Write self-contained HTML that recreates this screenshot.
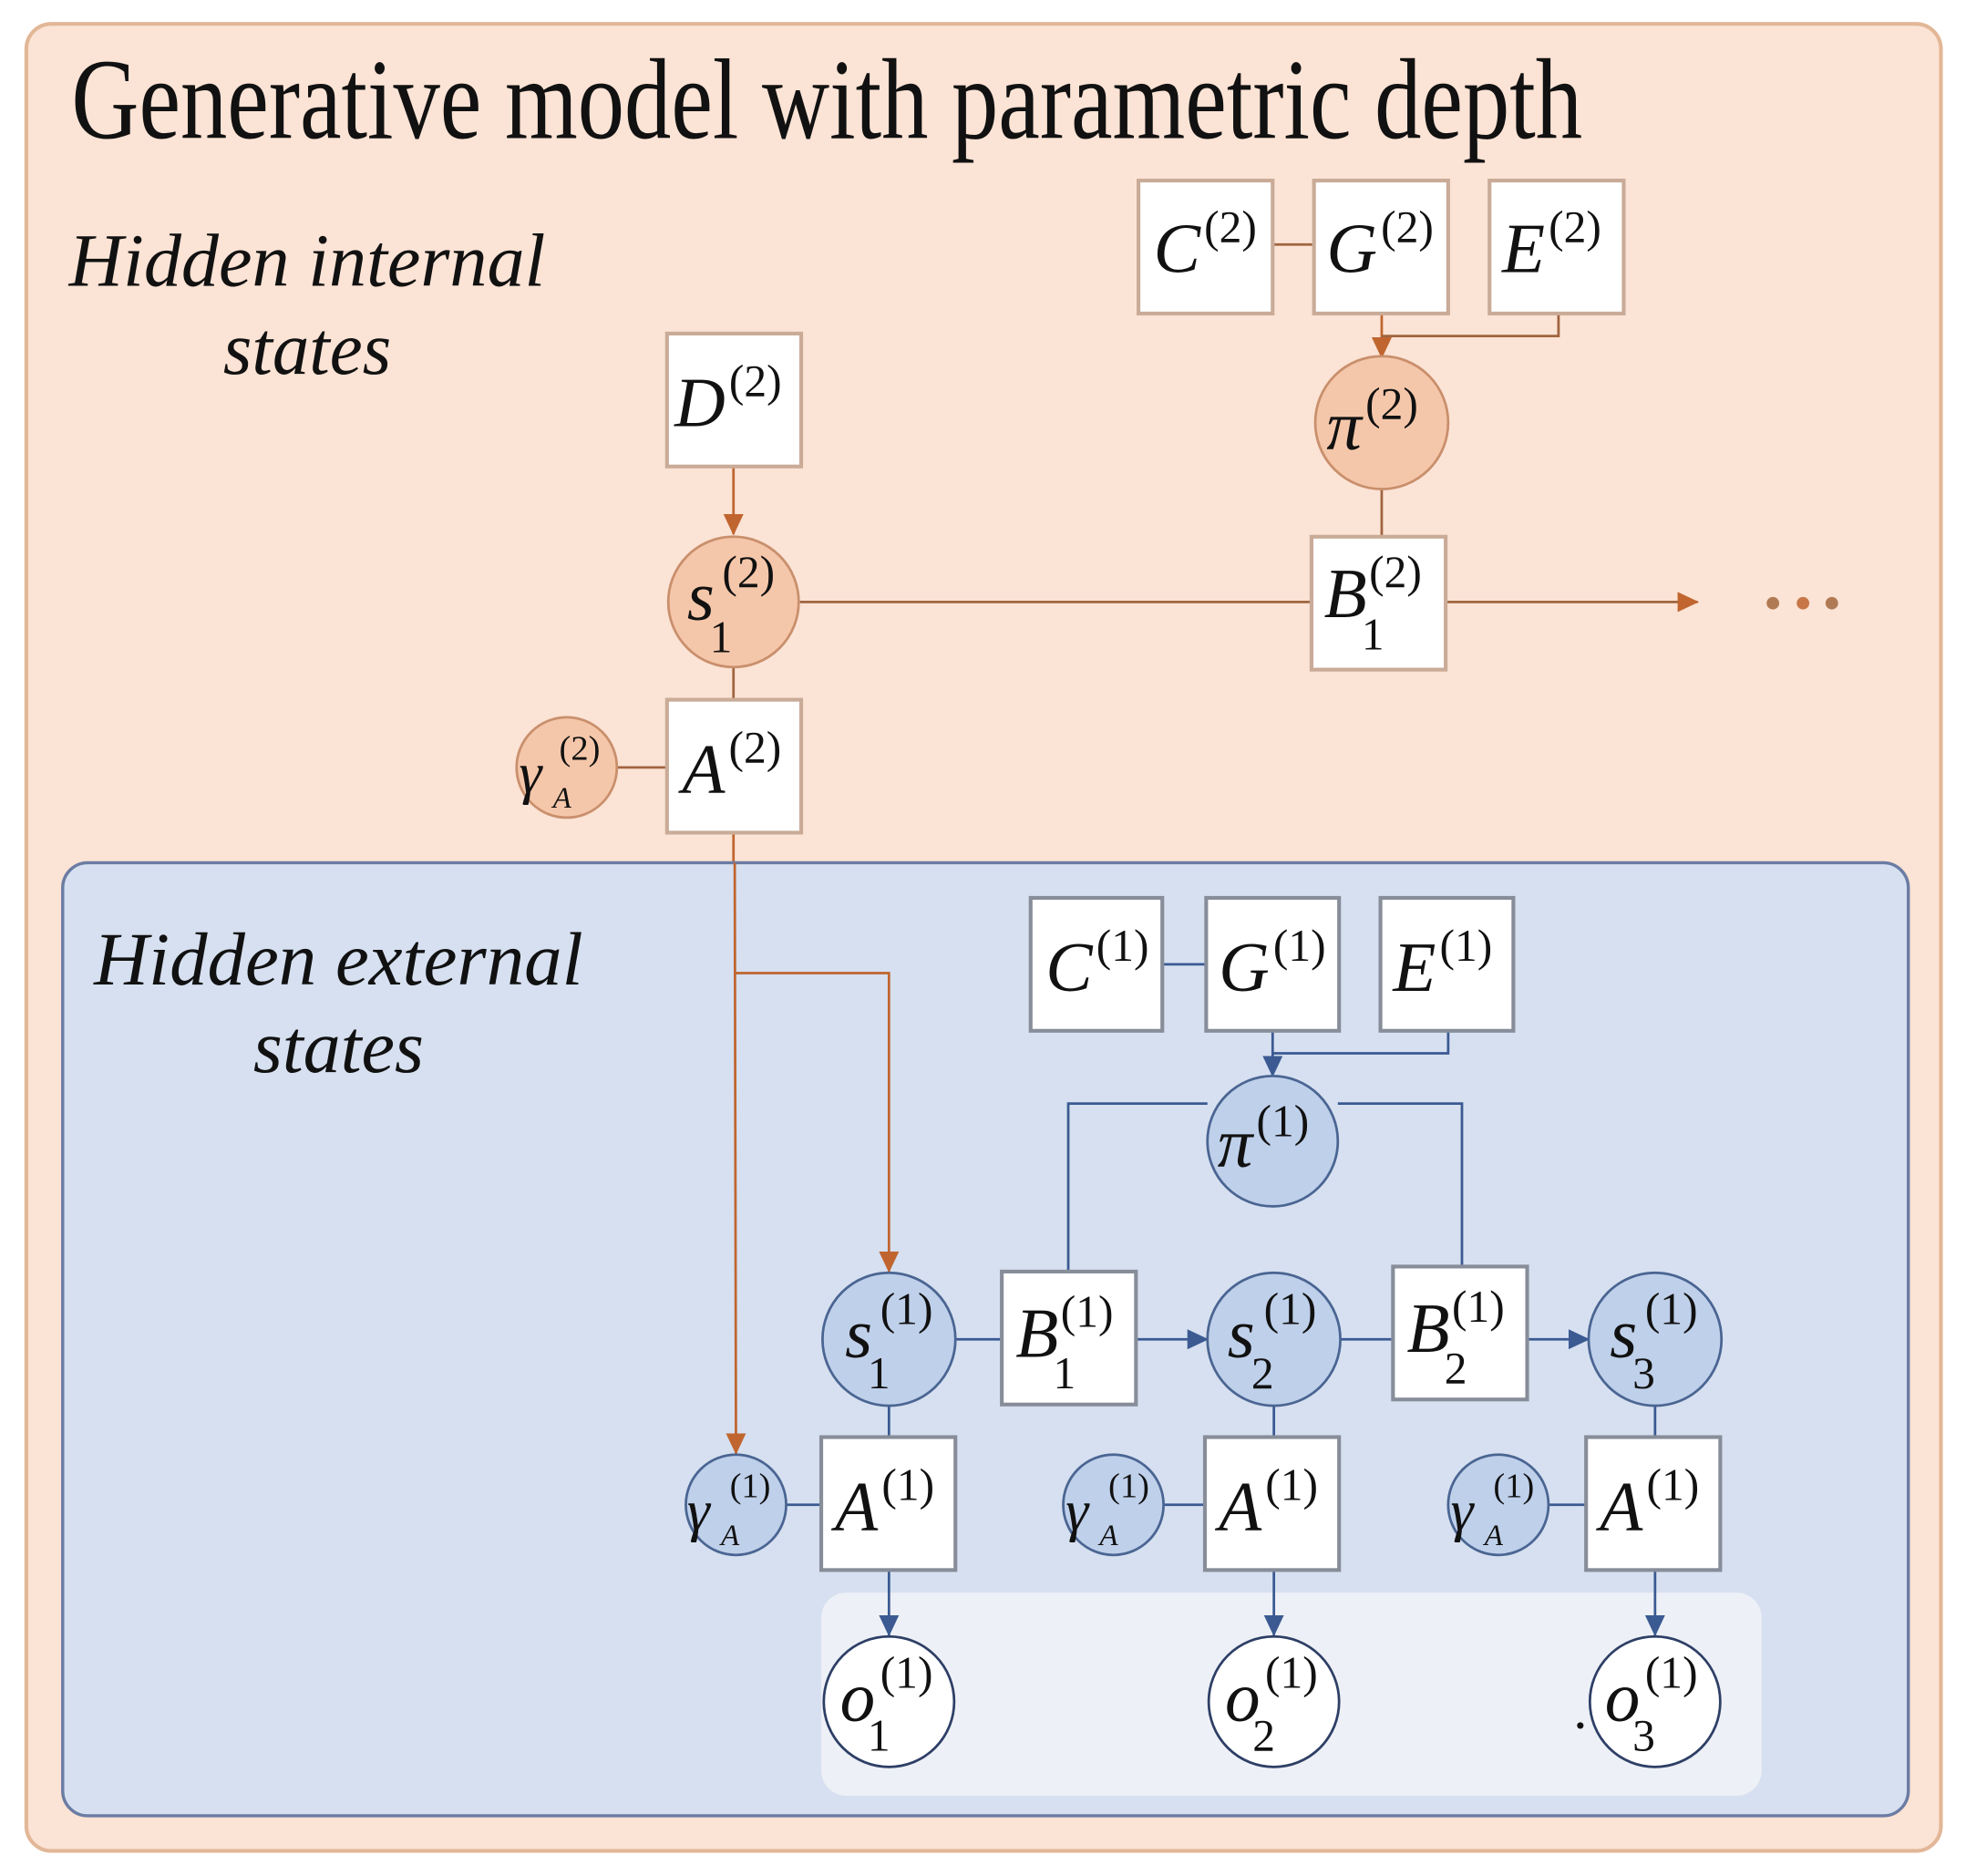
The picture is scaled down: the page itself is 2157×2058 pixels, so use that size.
<!DOCTYPE html>
<html><head><meta charset="utf-8"><style>
html,body{margin:0;padding:0;background:#fff;}
svg{display:block;}
text{font-family:"Liberation Serif",serif;fill:#111;}
.m{font-style:italic;font-size:56px;}
.sp{font-size:36px;font-style:normal;}
.sb{font-size:36px;font-style:normal;}
</style></head><body>
<svg width="2157" height="2058" viewBox="0 0 1568 1496" preserveAspectRatio="none" xmlns="http://www.w3.org/2000/svg">
<defs>
<marker id="aO" markerWidth="18" markerHeight="18" refX="16" refY="9" orient="auto" markerUnits="userSpaceOnUse"><path d="M0,1 L17,9 L0,17 z" fill="#c0652f"/></marker>
<marker id="aB" markerWidth="18" markerHeight="18" refX="16" refY="9" orient="auto" markerUnits="userSpaceOnUse"><path d="M0,1 L17,9 L0,17 z" fill="#3b5a92"/></marker>
</defs>
<rect x="21" y="19" width="1527" height="1457" rx="20" fill="#fbe3d5" stroke="#e2b797" stroke-width="3"/>
<text x="57" y="110" font-size="92" textLength="1205" lengthAdjust="spacingAndGlyphs">Generative model with parametric depth</text>
<text x="55" y="228" font-size="60" font-style="italic" textLength="380" lengthAdjust="spacingAndGlyphs">Hidden internal</text>
<text x="178" y="298" font-size="60" font-style="italic" textLength="134" lengthAdjust="spacingAndGlyphs">states</text>

<g stroke="#a0643f" stroke-width="2" fill="none">
<line x1="1015" y1="195" x2="1048" y2="195"/>
<line x1="1102" y1="250" x2="1102" y2="285" stroke="#c0652f" marker-end="url(#aO)"/>
<polyline points="1243,250 1243,268 1102,268"/>
<line x1="1102" y1="390" x2="1102" y2="428"/>
<line x1="585" y1="372" x2="585" y2="426" stroke="#c0652f" marker-end="url(#aO)"/>
<line x1="638" y1="480" x2="1046" y2="480"/>
<line x1="1153" y1="480" x2="1354" y2="480" marker-end="url(#aO)"/>
<line x1="585" y1="532" x2="585" y2="558"/>
<line x1="492" y1="612" x2="532" y2="612"/>
<line x1="585" y1="664" x2="585" y2="690" stroke="#c0652f"/>
</g>
<circle cx="1414" cy="481" r="5" fill="#b07a55"/><circle cx="1438" cy="481" r="5" fill="#c87648"/><circle cx="1461" cy="481" r="5" fill="#b07a55"/>

<rect x="50" y="688" width="1472" height="760" rx="20" fill="#d6e0f0" stroke="#6b7ca3" stroke-width="2.5"/>
<rect x="655" y="1270" width="750" height="162" rx="20" fill="#edf0f6"/>
<line x1="586" y1="688" x2="587" y2="1159" stroke="#c0652f" stroke-width="2" marker-end="url(#aO)"/>
<polyline points="587,776 709,776 709,1014" stroke="#c0652f" stroke-width="2" fill="none" marker-end="url(#aO)"/>
<text x="75" y="785" font-size="60" font-style="italic" textLength="390" lengthAdjust="spacingAndGlyphs">Hidden external</text>
<text x="202" y="855" font-size="60" font-style="italic" textLength="136" lengthAdjust="spacingAndGlyphs">states</text>

<g stroke="#3b5a92" stroke-width="2" fill="none">
<line x1="927" y1="769" x2="962" y2="769"/>
<line x1="1015" y1="822" x2="1015" y2="858" marker-end="url(#aB)"/>
<polyline points="1155,822 1155,840 1015,840"/>
<polyline points="963,880 852,880 852,1014"/>
<polyline points="1067,880 1166,880 1166,1010"/>
<line x1="762" y1="1068" x2="799" y2="1068"/>
<line x1="906" y1="1068" x2="963" y2="1068" marker-end="url(#aB)"/>
<line x1="1069" y1="1068" x2="1111" y2="1068"/>
<line x1="1218" y1="1068" x2="1267" y2="1068" marker-end="url(#aB)"/>
<line x1="709" y1="1120" x2="709" y2="1146"/><line x1="1016" y1="1120" x2="1016" y2="1146"/><line x1="1320" y1="1120" x2="1320" y2="1146"/>
<line x1="627" y1="1200" x2="655" y2="1200"/><line x1="928" y1="1200" x2="961" y2="1200"/><line x1="1235" y1="1200" x2="1265" y2="1200"/>
<line x1="709" y1="1252" x2="709" y2="1304" marker-end="url(#aB)"/>
<line x1="1016" y1="1252" x2="1016" y2="1304" marker-end="url(#aB)"/>
<line x1="1320" y1="1252" x2="1320" y2="1304" marker-end="url(#aB)"/>
</g>

<g fill="#fff" stroke="#c9ab98" stroke-width="3">
<rect x="908" y="144" width="107" height="106"/>
<rect x="1048" y="144" width="107" height="106"/>
<rect x="1188" y="144" width="107" height="106"/>
<rect x="532" y="266" width="107" height="106"/>
<rect x="1046" y="428" width="107" height="106"/>
<rect x="532" y="558" width="107" height="106"/>
</g>
<g fill="#f5c7aa" stroke="#c98f6c" stroke-width="2">
<circle cx="1102" cy="337" r="53"/>
<circle cx="585" cy="480" r="52"/>
<circle cx="452" cy="612" r="40"/>
</g>
<g fill="#fff" stroke="#878d99" stroke-width="3">
<rect x="822" y="716" width="105" height="106"/>
<rect x="962" y="716" width="106" height="106"/>
<rect x="1101" y="716" width="106" height="106"/>
<rect x="799" y="1014" width="107" height="106"/>
<rect x="1111" y="1010" width="107" height="106"/>
<rect x="655" y="1146" width="107" height="106"/>
<rect x="961" y="1146" width="107" height="106"/>
<rect x="1265" y="1146" width="107" height="106"/>
</g>
<g fill="#bfd0ea" stroke="#4a6592" stroke-width="2">
<circle cx="1015" cy="910" r="52"/>
<circle cx="709" cy="1068" r="53"/><circle cx="1016" cy="1068" r="53"/><circle cx="1320" cy="1068" r="53"/>
<circle cx="587" cy="1200" r="40"/><circle cx="888" cy="1200" r="40"/><circle cx="1195" cy="1200" r="40"/>
</g>
<g fill="#fff" stroke="#2e3f66" stroke-width="2">
<circle cx="709" cy="1357" r="52"/><circle cx="1016" cy="1357" r="52"/><circle cx="1320" cy="1357" r="52"/>
</g>

<g class="m">
<text x="920" y="217">C<tspan class="sp" dx="3" dy="-24">(2)</tspan></text>
<text x="1058" y="217">G<tspan class="sp" dx="3" dy="-24">(2)</tspan></text>
<text x="1198" y="217">E<tspan class="sp" dx="3" dy="-24">(2)</tspan></text>
<text x="538" y="340">D<tspan class="sp" dx="3" dy="-24">(2)</tspan></text>
<text x="544" y="632">A<tspan class="sp" dx="3" dy="-24">(2)</tspan></text>
<text x="1058" y="358">π<tspan class="sp" dx="3" dy="-24">(2)</tspan></text>
<text x="834" y="790">C<tspan class="sp" dx="3" dy="-24">(1)</tspan></text>
<text x="972" y="790">G<tspan class="sp" dx="3" dy="-24">(1)</tspan></text>
<text x="1111" y="790">E<tspan class="sp" dx="3" dy="-24">(1)</tspan></text>
<text x="971" y="930">π<tspan class="sp" dx="3" dy="-24">(1)</tspan></text>
<text x="666" y="1220">A<tspan class="sp" dx="3" dy="-24">(1)</tspan></text>
<text x="972" y="1220">A<tspan class="sp" dx="3" dy="-24">(1)</tspan></text>
<text x="1276" y="1220">A<tspan class="sp" dx="3" dy="-24">(1)</tspan></text>
</g>
<g class="m">
<text x="548" y="494">s</text><text class="sp" x="576" y="468">(2)</text><text class="sb" x="566" y="520">1</text>
<text x="1056" y="492">B</text><text class="sp" x="1092" y="468">(2)</text><text class="sb" x="1086" y="518">1</text>
<text x="674" y="1082">s</text><text class="sp" x="702" y="1056">(1)</text><text class="sb" x="692" y="1107">1</text>
<text x="810" y="1082">B</text><text class="sp" x="846" y="1058">(1)</text><text class="sb" x="840" y="1107">1</text>
<text x="979" y="1082">s</text><text class="sp" x="1008" y="1056">(1)</text><text class="sb" x="998" y="1107">2</text>
<text x="1122" y="1078">B</text><text class="sp" x="1158" y="1054">(1)</text><text class="sb" x="1152" y="1103">2</text>
<text x="1284" y="1082">s</text><text class="sp" x="1312" y="1056">(1)</text><text class="sb" x="1302" y="1107">3</text>
<text x="670" y="1372">o</text><text class="sp" x="702" y="1346">(1)</text><text class="sb" x="692" y="1396">1</text>
<text x="977" y="1372">o</text><text class="sp" x="1009" y="1346">(1)</text><text class="sb" x="999" y="1396">2</text>
<text x="1256" y="1378" style="font-size:44px">.</text>
<text x="1280" y="1372">o</text><text class="sp" x="1312" y="1346">(1)</text><text class="sb" x="1302" y="1396">3</text>
</g>
<g font-style="italic">
<text x="414" y="632" font-size="46">γ</text><text x="446" y="606" font-size="28" font-style="normal">(2)</text><text x="441" y="644" font-size="24">A</text>
<text x="548" y="1220" font-size="46">γ</text><text x="582" y="1194" font-size="28" font-style="normal">(1)</text><text x="575" y="1232" font-size="24">A</text>
<text x="850" y="1220" font-size="46">γ</text><text x="884" y="1194" font-size="28" font-style="normal">(1)</text><text x="877" y="1232" font-size="24">A</text>
<text x="1157" y="1220" font-size="46">γ</text><text x="1191" y="1194" font-size="28" font-style="normal">(1)</text><text x="1184" y="1232" font-size="24">A</text>
</g>
</svg>
</body></html>
